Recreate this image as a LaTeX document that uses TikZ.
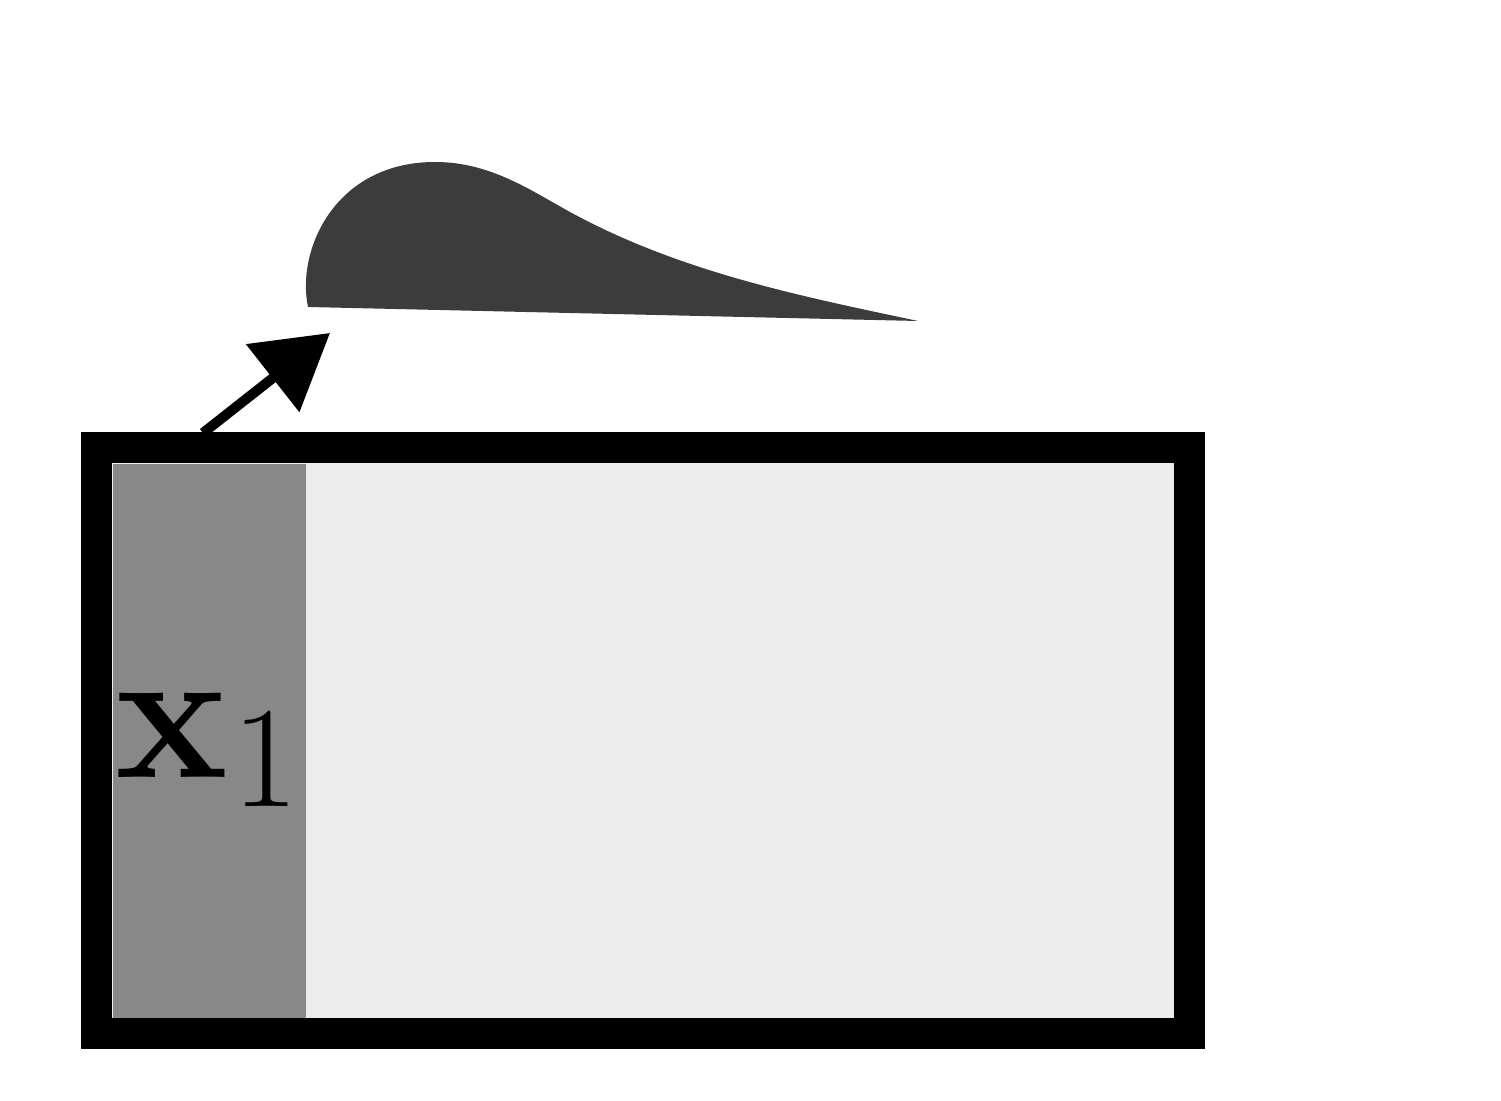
\documentclass[tikz,border=0pt]{standalone}
\usetikzlibrary{arrows.meta,positioning}
\definecolor{domfill}{HTML}{ECECEC}
\definecolor{stripfill}{HTML}{888888}
\definecolor{foilfill}{HTML}{3C3C3C}
\newcommand{\xone}{\textbf{x}\kern1pt\raisebox{-0.15em}{\fontsize{41}{44}\selectfont 1}}

\begin{document}
\begin{tikzpicture}[
  x=0.01cm, y=-0.01cm,
  font=\fontsize{54}{60}\selectfont,
  dombox/.style={draw, line width=0.31cm, fill=domfill, inner sep=0pt,
                 minimum width=10.92cm, minimum height=5.85cm},
  stripbox/.style={fill=stripfill, inner sep=0pt,
                minimum width=1.93cm, minimum height=5.54cm},
  arr/.style={-{Triangle[length=7.3mm, width=8.4mm]}, line width=0.1cm},
]
\useasboundingbox (0,0) rectangle (1501,1101);
\node[dombox] (dom) at (643,740.5) {};
\node[stripbox] (x1) at (209.5,741) {};
\node (lbl) at (207,750) {\xone};
% airfoil
\fill[foilfill] (308,307) .. controls (296,250) and (335,162) .. (435,162)
  .. controls (490,162) and (530,190) .. (570,212)
  .. controls (680,272) and (800,296) .. (918,321) -- cycle;
\coordinate (foot) at (203,433);
\coordinate (tip) at (330,333);
\draw[arr] (foot) -- (tip);
\end{tikzpicture}
\end{document}
